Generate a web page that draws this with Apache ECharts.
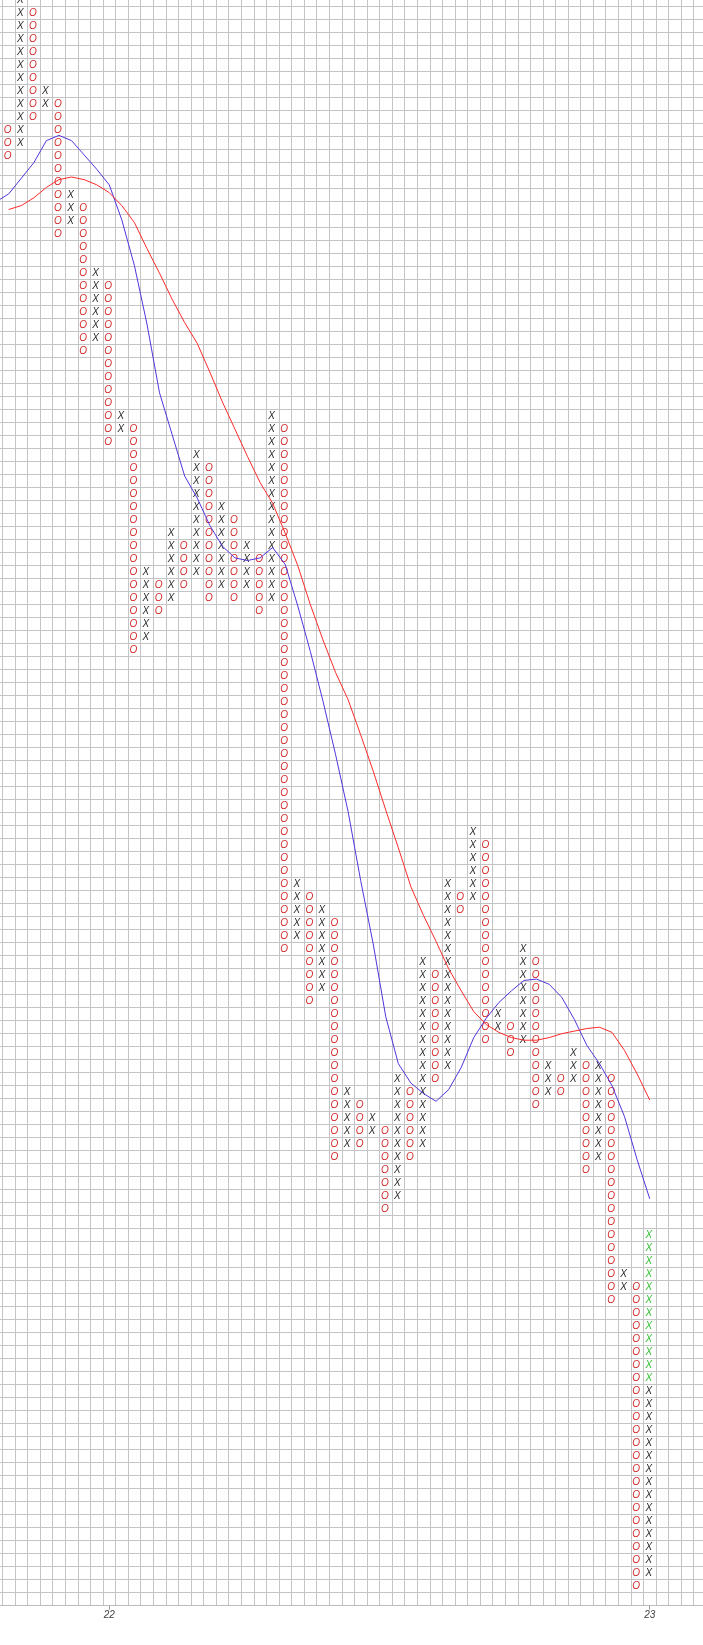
<!DOCTYPE html>
<html><head><meta charset="utf-8">
<script src="https://cdn.jsdelivr.net/npm/echarts@6/dist/echarts.min.js"></script>
<style>html,body{margin:0;padding:0;background:#fff;overflow:hidden;width:703px;height:1645px;position:relative}
#c{position:absolute;left:-11px;top:-7px;width:718px;height:1652px}</style>
</head><body><div id="c"></div>
<script>
// Point & figure columns (box levels, 0 = lowest box in view)
const colType = ['O','X','O','X','O','X','O','X','O','X','O','X','O','X','O','X','O','X','O','X','O','X','O','X','O','X','O','X','O','X','O','X','O','X','O','X','O','X','O','X','O','X','O','X','O','X','O','X','O','X','O','X'];
const colLow  = [111,112,114,115,105,106,96,97,89,90,73,74,76,77,78,79,77,78,77,78,76,77,50,51,46,47,34,35,35,36,30,31,34,35,40,41,53,54,43,44,42,43,38,39,39,40,33,34,23,24,1,2];
const colHigh = [113,123,122,116,115,108,107,102,101,91,90,79,78,82,81,88,87,84,83,81,80,91,90,55,54,53,52,39,38,37,36,40,39,49,48,55,54,59,58,45,44,50,49,41,40,42,41,41,40,25,24,28];
const greenCol = 51;
const greenFromBox = 17;

// moving averages (box units), one value per column
const maFastStartCol = -1;
const maFast = [107.5,108.1,109.3,110.5,112.2,112.6,112.2,111.1,110.0,108.8,106.1,102.6,98.1,92.8,89.6,86.4,84.7,82.6,81.0,80.1,79.9,80.1,80.9,79.6,76.4,72.9,69.1,65.0,60.6,55.3,50.4,44.8,41.2,39.7,38.9,38.3,39.2,40.9,43.2,44.7,45.9,46.8,47.6,47.7,47.3,46.3,44.6,42.6,41.2,39.5,37.1,33.8,30.8];
const maSlowStartCol = 0;
const maSlow = [106.9,107.2,107.8,108.6,109.2,109.4,109.2,108.8,108.2,107.2,105.9,103.9,102.0,100.0,98.2,96.6,94.4,92.1,90.0,87.9,85.9,84.3,82.0,79.5,76.5,73.8,71.3,69.2,66.5,63.7,60.7,57.8,54.8,52.6,50.6,48.5,46.8,45.2,44.2,43.6,43.2,43.0,43.0,43.2,43.5,43.7,43.9,44.0,43.6,42.2,40.4,38.4];

// date ticks
const dateTickCols = [8, 51];
const dateTickLabels = ['22', '23'];

const COLORS = { O: '#d42a2a', X: '#2a2a2a', G: '#33c033' };
const cells = [];
colType.forEach((t, c) => {
  for (let b = colLow[c]; b <= colHigh[c]; b++) {
    let kind = t;
    if (t === 'X' && c === greenCol && b >= greenFromBox) kind = 'G';
    cells.push({ c, b, kind });
  }
});
const cellData = cells.map(d => [d.c + 0.5, d.b + 0.5]);
const fastData = maFast.map((v, i) => [maFastStartCol + i + 0.5, v + 0.5]);
const slowData = maSlow.map((v, i) => [maSlowStartCol + i + 0.5, v + 0.5]);
const tickVals = dateTickCols.map(c => c + 0.5);

const chart = echarts.init(document.getElementById('c'), null, { renderer: 'canvas' });
chart.setOption({
  animation: false,
  backgroundColor: '#ffffff',
  grid: { left: 0.83, right: 0.7, top: 0.7, bottom: 39.3, containLabel: false },
  xAxis: [{
    type: 'value', min: -1, max: 56, interval: 1,
    axisLine: { show: true, lineStyle: { color: '#bdbdbd', width: 1 } },
    axisTick: { show: false }, axisLabel: { show: false },
    splitLine: { show: true, lineStyle: { color: '#c4c4c4', width: 1 } }
  }, {
    type: 'value', min: -1, max: 56, position: 'bottom',
    axisLine: { show: false },
    axisTick: { show: true, customValues: tickVals, length: 4, lineStyle: { color: '#9a9a9a' } },
    axisLabel: {
      show: true, customValues: tickVals, margin: 5,
      formatter: v => { const i = tickVals.indexOf(v); return i >= 0 ? dateTickLabels[i] : ''; },
      fontStyle: 'italic', fontSize: 10, color: '#444', fontFamily: 'Liberation Sans'
    },
    splitLine: { show: false }
  }],
  yAxis: {
    type: 'value', min: 0, max: 124, interval: 1,
    axisLine: { show: false }, axisTick: { show: false }, axisLabel: { show: false },
    splitLine: { show: true, lineStyle: { color: '#c4c4c4', width: 1 } }
  },
  series: [
    {
      type: 'custom', data: cellData, encode: { x: 0, y: 1 }, z: 3,
      renderItem: (params, api) => {
        const d = cells[params.dataIndex];
        const p = api.coord([api.value(0), api.value(1)]);
        return {
          type: 'text', x: p[0] - 1, y: p[1] + 0.5,
          style: {
            text: d.kind === 'O' ? 'O' : 'X',
            fill: COLORS[d.kind],
            font: 'italic 10px "Liberation Sans"',
            align: 'center', verticalAlign: 'middle'
          }
        };
      }
    },
    { type: 'line', data: fastData, showSymbol: false, z: 5,
      lineStyle: { color: '#5533dd', width: 1 }, itemStyle: { color: '#5533dd' } },
    { type: 'line', data: slowData, showSymbol: false, z: 5,
      lineStyle: { color: '#ff2a2a', width: 1 }, itemStyle: { color: '#ff2a2a' } }
  ]
});
</script></body></html>
